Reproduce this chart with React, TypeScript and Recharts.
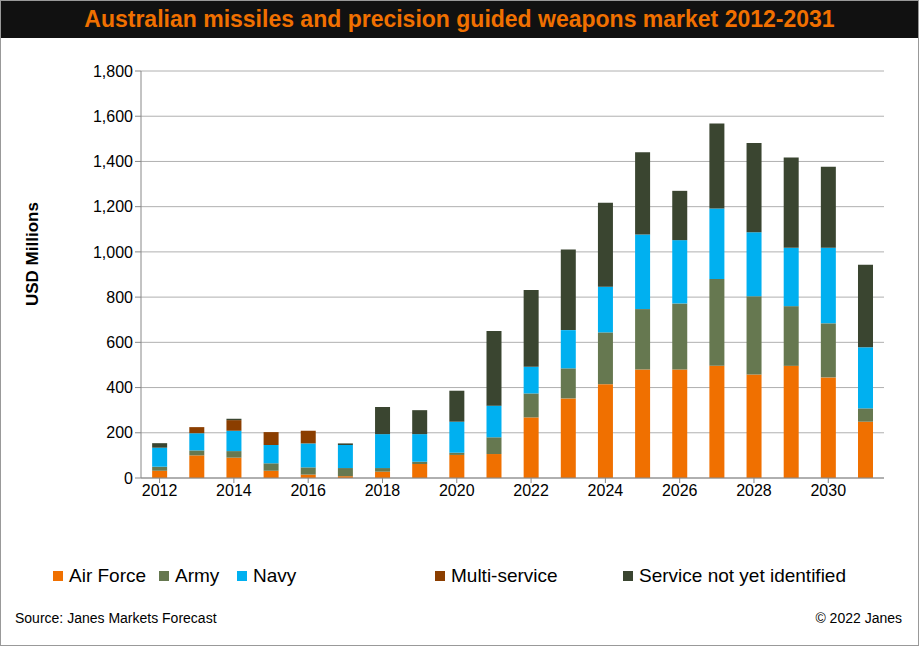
import { BarChart, Bar, XAxis, YAxis, CartesianGrid } from 'recharts';

const years = [2012, 2013, 2014, 2015, 2016, 2017, 2018, 2019, 2020, 2021, 2022, 2023, 2024, 2025, 2026, 2027, 2028, 2029, 2030, 2031];
const airForce = [32, 100, 90, 32, 15, 8, 28, 62, 102, 106, 268, 352, 415, 480, 480, 496, 458, 496, 445, 249];
const army = [18, 22, 29, 33, 32, 36, 16, 10, 10, 74, 106, 133, 229, 267, 292, 384, 346, 264, 239, 59];
const navy = [84, 76, 90, 81, 106, 102, 150, 122, 137, 140, 118, 169, 202, 330, 280, 312, 283, 258, 334, 270];
const multiService = [0, 27, 47, 57, 56, 0, 0, 0, 0, 0, 0, 0, 0, 0, 0, 0, 0, 0, 0, 0];
const notIdentified = [20, 0, 6, 0, 0, 7, 120, 106, 137, 330, 339, 357, 371, 364, 218, 376, 395, 399, 358, 365];
const yTicks = [0, 200, 400, 600, 800, 1000, 1200, 1400, 1600, 1800];

const series = [
  { key: 'airForce', name: 'Air Force', color: '#F07000' },
  { key: 'army', name: 'Army', color: '#667850' },
  { key: 'navy', name: 'Navy', color: '#00B0F0' },
  { key: 'multiService', name: 'Multi-service', color: '#8B3E00' },
  { key: 'notIdentified', name: 'Service not yet identified', color: '#3A4530' },
];
const legendLeft = [52, 158, 236, 434, 622];

const data = years.map((y, i) => ({
  year: y,
  airForce: airForce[i],
  army: army[i],
  navy: navy[i],
  multiService: multiService[i],
  notIdentified: notIdentified[i],
}));

const font = 'Arial, "Liberation Sans", sans-serif';

export default function App() {
  return (
    <div style={{ position: 'absolute', left: 0, top: 0, width: 917, height: 644, border: '1px solid #999', background: '#fff', fontFamily: font, overflow: 'hidden' }}>
      <div style={{ height: 37, background: '#111', color: '#F07000', fontWeight: 'bold', fontSize: 23, lineHeight: '37px', textAlign: 'center' }}>
        Australian missiles and precision guided weapons market 2012-2031
      </div>
      <div style={{ position: 'absolute', left: 12, top: 235, transform: 'rotate(-90deg)', transformOrigin: 'center', fontWeight: 'bold', fontSize: 17, width: 120, marginLeft: -40 }}>
        USD Millions
      </div>
      <div style={{ position: 'absolute', top: 37, left: 0 }}>
        <BarChart width={917} height={520} data={data} margin={{ top: 33, right: 34, bottom: 50, left: 60 }} barCategoryGap="30%">
          <CartesianGrid vertical={false} stroke="#b0b0b0" />
          <XAxis dataKey="year" interval={1} tick={{ fill: '#000', fontSize: 16 }} stroke="#888" tickLine={{ stroke: '#888' }} tickSize={5} />
          <YAxis domain={[0, 1800]} ticks={yTicks} width={80} tick={{ fill: '#000', fontSize: 16 }} stroke="#888" tickFormatter={(v: number) => v.toLocaleString('en-US')} />
          {series.map(s => (
            <Bar key={s.key} dataKey={s.key} name={s.name} stackId="a" fill={s.color} isAnimationActive={false} />
          ))}
        </BarChart>
      </div>
      {series.map((s, i) => (
        <div key={s.key} style={{ position: 'absolute', top: 564, left: legendLeft[i], display: 'flex', alignItems: 'center', fontSize: 19 }}>
          <span style={{ width: 10, height: 10, background: s.color, display: 'inline-block', marginRight: 6 }} />
          {s.name}
        </div>
      ))}
      <div style={{ position: 'absolute', top: 609, left: 14, fontSize: 14 }}>Source: Janes Markets Forecast</div>
      <div style={{ position: 'absolute', top: 609, right: 16, fontSize: 14 }}>© 2022 Janes</div>
    </div>
  );
}
